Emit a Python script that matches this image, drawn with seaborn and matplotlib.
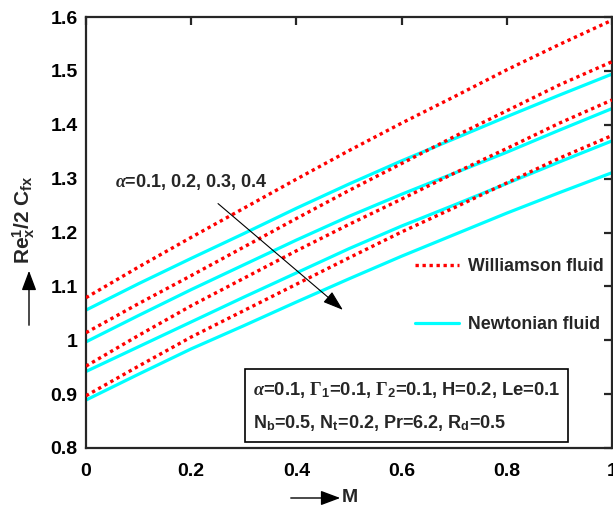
import matplotlib
matplotlib.use("Agg")
import matplotlib.pyplot as plt
from matplotlib.lines import Line2D
from matplotlib.patches import Rectangle, FancyArrowPatch
import seaborn as sns

# Magnetic parameter M
M = [0.0, 0.1, 0.2, 0.3, 0.4, 0.5, 0.6, 0.7, 0.8, 0.9, 1.0]

# Skin friction Re_x^(1/2) C_fx, Williamson fluid, alpha = 0.1 .. 0.4
wil_a1 = [1.079, 1.136, 1.191, 1.245, 1.299, 1.352, 1.403, 1.452, 1.502, 1.549, 1.594]
wil_a2 = [1.014, 1.068, 1.120, 1.173, 1.226, 1.278, 1.328, 1.378, 1.426, 1.474, 1.517]
wil_a3 = [0.952, 1.009, 1.064, 1.115, 1.166, 1.215, 1.262, 1.310, 1.356, 1.403, 1.446]
wil_a4 = [0.897, 0.952, 1.006, 1.055, 1.104, 1.153, 1.201, 1.246, 1.292, 1.338, 1.380]

# Skin friction, Newtonian fluid, alpha = 0.1 .. 0.4
new_a1 = [1.056, 1.105, 1.152, 1.198, 1.245, 1.290, 1.333, 1.374, 1.415, 1.455, 1.494]
new_a2 = [0.997, 1.046, 1.094, 1.140, 1.186, 1.230, 1.271, 1.310, 1.349, 1.390, 1.430]
new_a3 = [0.942, 0.988, 1.034, 1.080, 1.125, 1.170, 1.212, 1.251, 1.291, 1.331, 1.370]
new_a4 = [0.889, 0.937, 0.984, 1.027, 1.071, 1.114, 1.156, 1.196, 1.236, 1.274, 1.311]

x_ticks = [0, 0.2, 0.4, 0.6, 0.8, 1.0]
x_ticklabels = ["0", "0.2", "0.4", "0.6", "0.8", "1"]
y_ticks = [0.8, 0.9, 1.0, 1.1, 1.2, 1.3, 1.4, 1.5, 1.6]
y_ticklabels = ["0.8", "0.9", "1", "1.1", "1.2", "1.3", "1.4", "1.5", "1.6"]

sns.set_style("white")
plt.rcParams["font.family"] = ["Liberation Sans", "DejaVu Sans"]
plt.rcParams["font.weight"] = "bold"
plt.rcParams["mathtext.fontset"] = "custom"
plt.rcParams["mathtext.rm"] = "Liberation Serif"
plt.rcParams["mathtext.it"] = "Liberation Serif:italic"
plt.rcParams["mathtext.bf"] = "Liberation Sans:bold"

W, H = 613, 509
fig = plt.figure(figsize=(W / 100, H / 100), dpi=100)
ax = fig.add_axes([86 / W, 1 - 448 / H, 526 / W, 431 / H])

CYAN = "#00FFFF"
RED = "#FF0000"
DOTS = (0, (1, 1.1))

for ys in (new_a1, new_a2, new_a3, new_a4):
    sns.lineplot(x=M, y=ys, ax=ax, color=CYAN, linewidth=2.3, zorder=2)
for ys in (wil_a1, wil_a2, wil_a3, wil_a4):
    sns.lineplot(x=M, y=ys, ax=ax, color=RED, linewidth=2.4,
                 linestyle=DOTS, zorder=3)

ax.set_xlim(0, 1)
ax.set_ylim(0.8, 1.6)
ax.set_xticks(x_ticks)
ax.set_xticklabels(x_ticklabels)
ax.set_yticks(y_ticks)
ax.set_yticklabels(y_ticklabels)
ax.set_xlabel("")
ax.set_ylabel("")

for sp in ax.spines.values():
    sp.set_linewidth(1.6)
    sp.set_color("#262626")
    sp.set_visible(True)
ax.tick_params(direction="in", length=5.5, width=1.6, color="#262626",
               top=True, right=True, labelsize=14, labelcolor="black")
ax.tick_params(axis="x", pad=11)
ax.tick_params(axis="y", pad=6)
for lab in ax.get_xticklabels() + ax.get_yticklabels():
    lab.set_fontweight("bold")

# Legend
handles = [Line2D([], [], color=RED, lw=2.4, linestyle=DOTS),
           Line2D([], [], color=CYAN, lw=2.3)]
ax.legend(handles, ["Williamson fluid", "Newtonian fluid"],
          loc="upper left", bbox_to_anchor=(0.6255, 0.441), frameon=False,
          borderpad=0, borderaxespad=0, handlelength=2.5, handletextpad=0.5,
          labelspacing=2.3, prop={"weight": "bold", "size": 12.8})

# Parameter box
ax.add_patch(Rectangle((0.302, 0.014), 0.614, 0.169, transform=ax.transAxes,
                       facecolor="white", edgecolor="black", lw=1.2, zorder=5))
ax.text(0.3175, 0.135,
        r"$\alpha$=0.1, $\Gamma_{\mathbf{1}}$=0.1, $\Gamma_{\mathbf{2}}$=0.1, H=0.2, Le=0.1",
        transform=ax.transAxes, va="center", ha="left", fontsize=13.2,
        fontweight="bold", zorder=6)
ax.text(0.3175, 0.058,
        r"N$_{\mathbf{b}}$=0.5, N$_{\mathbf{t}}$=0.2, Pr=6.2, R$_{\mathbf{d}}$=0.5",
        transform=ax.transAxes, va="center", ha="left", fontsize=13,
        fontweight="bold", zorder=6)

# Direction of increasing alpha
ax.text(0.055, 1.294, r"$\alpha$=0.1, 0.2, 0.3, 0.4", va="center", ha="left",
        fontsize=13, fontweight="bold", zorder=6)
ax.annotate("", xy=(0.4924, 1.053), xytext=(0.247, 1.257),
            arrowprops=dict(arrowstyle="-|>,head_length=0.9,head_width=0.3",
                            color="black", lw=0.8, mutation_scale=14), zorder=6)

# Axis labels with leading arrows
def fpx(x, y):
    return (x / W, 1 - y / H)

fig.text(*fpx(350, 498), "M", ha="center", va="center", fontsize=14,
         fontweight="bold")
fig.add_artist(FancyArrowPatch(
    fpx(288, 498), fpx(343, 498), transform=fig.transFigure,
    arrowstyle="-|>,head_length=0.8,head_width=0.3", mutation_scale=15,
    color="black", lw=1.0))

fig.text(*fpx(24, 220), r"Re$_{\mathbf{x}}^{\mathbf{1}}$/2 C$_{\mathbf{fx}}$",
         ha="center", va="center", rotation=90, fontsize=15, fontweight="bold")
fig.add_artist(FancyArrowPatch(
    fpx(29, 328), fpx(29, 268), transform=fig.transFigure,
    arrowstyle="-|>,head_length=0.8,head_width=0.3", mutation_scale=15,
    color="black", lw=1.0))

fig.savefig("out.png", dpi=100)
